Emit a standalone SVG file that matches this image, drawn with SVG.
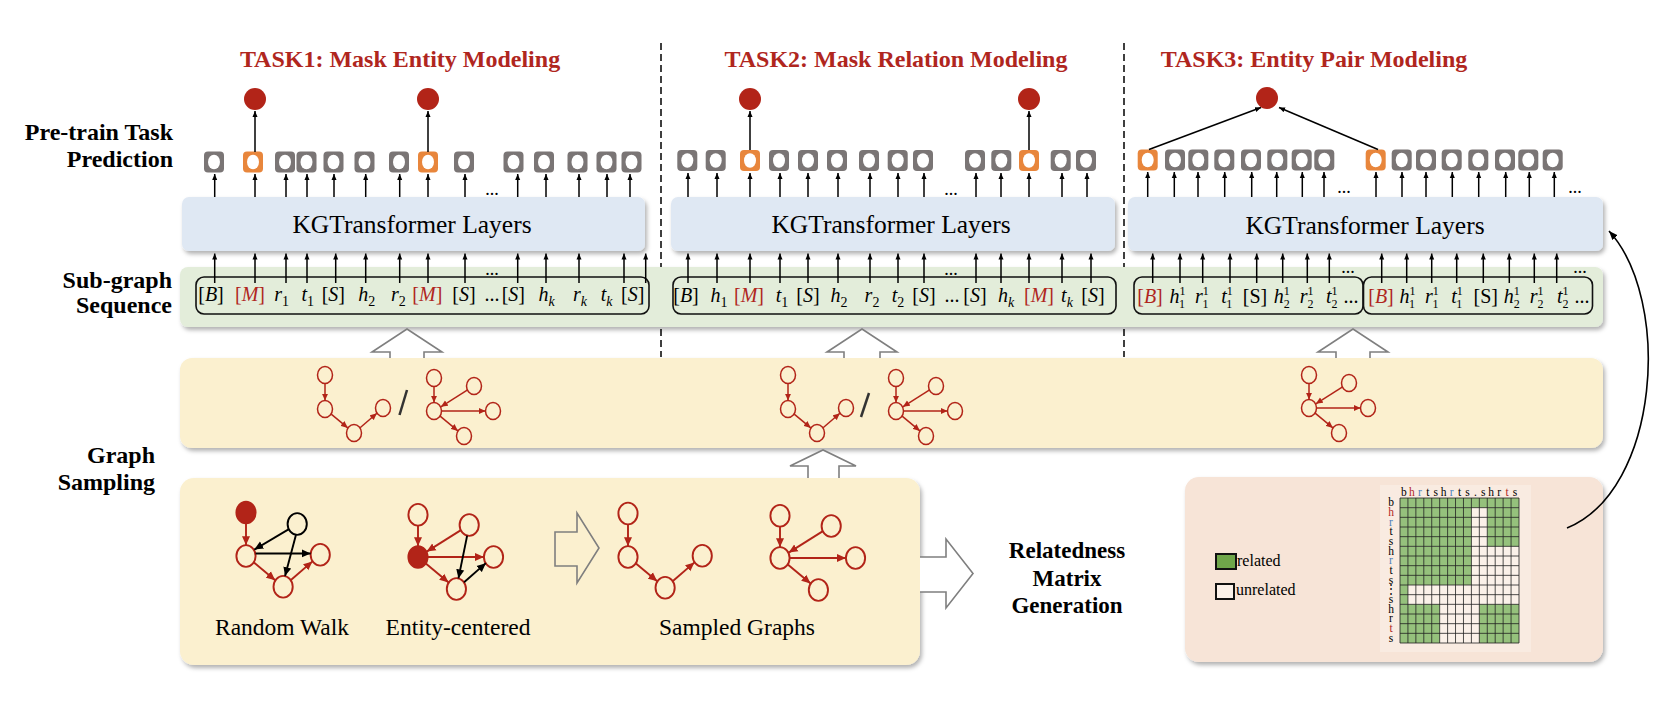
<svg xmlns="http://www.w3.org/2000/svg" xmlns:xlink="http://www.w3.org/1999/xlink" width="1676" height="710" viewBox="0 0 1676 710">
<style>
.ti{font:bold 24px "Liberation Serif",serif;fill:#B0261E;text-anchor:middle}
.lb{font:bold 24px "Liberation Serif",serif;text-anchor:end;fill:#000}
.kg{font:25.5px "Liberation Serif",serif;text-anchor:middle;fill:#000}
.sq{font:20px "Liberation Serif",serif;text-anchor:middle;fill:#000}
.i{font-style:italic}
.sb{font-size:14px}
.sp{font-size:12px}
.rd{fill:#B0261E}
.dt{font:18px "Liberation Serif",serif;text-anchor:middle}
.bl{font:23.5px "Liberation Serif",serif;text-anchor:middle}
.rm{font:bold 23px "Liberation Serif",serif;text-anchor:middle}
.lg{font:16px "Liberation Serif",serif}
.ml{font:11.5px "Liberation Serif","DejaVu Serif",serif;text-anchor:middle}
.bl2{fill:#4A7EBB}
.ar line{stroke:#000;stroke-width:1.5;marker-end:url(#ah)}
.gn{fill:none;stroke:#B22418;stroke-width:1.5}
.ge{stroke:#B22418;stroke-width:1.5;marker-end:url(#ar)}
.gk{stroke:#000;stroke-width:1.5;marker-end:url(#ak)}
.ha{stroke:#7F7F7F;stroke-width:1.6;fill:#fff}
.sqb{fill:none;stroke:#111;stroke-width:1.6}
</style>
<defs>
<filter id="sh" x="-5%" y="-20%" width="110%" height="150%"><feDropShadow dx="2" dy="3" stdDeviation="2" flood-color="#000" flood-opacity="0.3"/></filter>
<marker id="ah" viewBox="0 0 10 10" refX="10" refY="5" markerWidth="6" markerHeight="6" markerUnits="userSpaceOnUse" orient="auto"><path d="M0,0.8 L10,5 L0,9.2 z" fill="#000"/></marker>
<marker id="ac" viewBox="0 0 10 10" refX="10" refY="5" markerWidth="9" markerHeight="9" markerUnits="userSpaceOnUse" orient="auto"><path d="M0,1 L10,5 L0,9 z" fill="#000"/></marker>
<marker id="ar" viewBox="0 0 10 10" refX="10" refY="5" markerWidth="7" markerHeight="7" markerUnits="userSpaceOnUse" orient="auto"><path d="M0,0.5 L10,5 L0,9.5 z" fill="#B22418"/></marker>
<marker id="ak" viewBox="0 0 10 10" refX="10" refY="5" markerWidth="7" markerHeight="7" markerUnits="userSpaceOnUse" orient="auto"><path d="M0,0.5 L10,5 L0,9.5 z" fill="#000"/></marker>
<g id="tg"><rect x="-10" y="-10.5" width="20" height="21" rx="4" fill="#7A7575"/><ellipse rx="6" ry="7.3" fill="#fff"/></g>
<g id="to"><rect x="-10" y="-10.5" width="20" height="21" rx="4" fill="#E8863C"/><ellipse rx="6" ry="7.3" fill="#fff"/></g>
<g id="gpath">
<ellipse class="gn" cx="0" cy="-34" rx="7.5" ry="8.5"/><ellipse class="gn" cx="0" cy="0" rx="7.5" ry="8.5"/><ellipse class="gn" cx="29" cy="24" rx="7.5" ry="8.5"/><ellipse class="gn" cx="58" cy="-1" rx="7.5" ry="8.5"/>
<line class="ge" x1="0" y1="-25.5" x2="0" y2="-8.5"/><line class="ge" x1="6.2" y1="5.1" x2="22.8" y2="18.9"/><line class="ge" x1="35.1" y1="18.8" x2="51.9" y2="4.2"/>
</g>
<g id="gstar">
<ellipse class="gn" cx="0" cy="0" rx="7.5" ry="8.5"/><ellipse class="gn" cx="0" cy="-33" rx="7.5" ry="8.5"/><ellipse class="gn" cx="40" cy="-25" rx="7.5" ry="8.5"/><ellipse class="gn" cx="59" cy="0" rx="7.5" ry="8.5"/><ellipse class="gn" cx="30" cy="25" rx="7.5" ry="8.5"/>
<line class="ge" x1="0" y1="-24.5" x2="0" y2="-8.5"/><line class="ge" x1="33.2" y1="-20.8" x2="6.8" y2="-4.2"/><line class="ge" x1="7.5" y1="0" x2="51.5" y2="0"/><line class="ge" x1="6.1" y1="5.1" x2="23.9" y2="19.9"/>
</g>
</defs>
<rect width="1676" height="710" fill="#fff"/>

<!-- section dividers -->
<g id="dividers" stroke="#000" stroke-width="1.5" stroke-dasharray="7,4">
<line x1="661" y1="43" x2="661" y2="357"/>
<line x1="1124" y1="43" x2="1124" y2="357"/>
</g>

<!-- left labels -->
<g id="labels">
<text class="lb" x="173" y="140">Pre-train Task</text>
<text class="lb" x="173" y="167">Prediction</text>
<text class="lb" x="172" y="288">Sub-graph</text>
<text class="lb" x="172" y="313">Sequence</text>
<text class="lb" x="155" y="463">Graph</text>
<text class="lb" x="155" y="490">Sampling</text>
</g>

<!-- titles -->
<g id="titles">
<text class="ti" x="400" y="67">TASK1: Mask Entity Modeling</text>
<text class="ti" x="896" y="67">TASK2: Mask Relation Modeling</text>
<text class="ti" x="1314" y="67">TASK3: Entity Pair Modeling</text>
</g>

<!-- background bands -->
<g id="seq-band"><rect x="180" y="267" width="1423" height="60" rx="8" fill="#E3EDDA" filter="url(#sh)"/></g>
<g id="sample-band"><rect x="180" y="358" width="1423" height="90" rx="12" fill="#FBF0CF" filter="url(#sh)"/></g>
<g id="sampling-box"><rect x="180" y="478" width="740" height="187" rx="14" fill="#FBF0CF" filter="url(#sh)"/></g>
<g id="matrix-box"><rect x="1185" y="477" width="418" height="185" rx="14" fill="#F7E4D7" filter="url(#sh)"/></g>

<!-- KGTransformer layers -->
<g id="kg1"><rect x="182" y="197" width="463" height="54" rx="7" fill="#DFE8F3" filter="url(#sh)"/><text class="kg" x="412" y="233">KGTransformer Layers</text></g>
<g id="kg2"><rect x="671" y="197" width="444" height="54" rx="7" fill="#DFE8F3" filter="url(#sh)"/><text class="kg" x="891" y="233">KGTransformer Layers</text></g>
<g id="kg3"><rect x="1128" y="197" width="475" height="54" rx="7" fill="#DFE8F3" filter="url(#sh)"/><text class="kg" x="1365" y="234">KGTransformer Layers</text></g>

<!-- sequence boxes -->
<g id="seq1">
<rect class="sqb" x="196" y="277" width="453" height="37" rx="8"/>
<text class="sq" x="211" y="301">[<tspan class="i">B</tspan>]</text>
<text class="sq rd" x="250" y="301">[<tspan class="i">M</tspan>]</text>
<text class="sq" x="281.7" y="301"><tspan class="i">r</tspan><tspan class="sb" dy="5">1</tspan></text>
<text class="sq" x="307.7" y="301"><tspan class="i">t</tspan><tspan class="sb" dy="5">1</tspan></text>
<text class="sq" x="333.3" y="301">[<tspan class="i">S</tspan>]</text>
<text class="sq" x="366.7" y="301"><tspan class="i">h</tspan><tspan class="sb" dy="5">2</tspan></text>
<text class="sq" x="398.3" y="301"><tspan class="i">r</tspan><tspan class="sb" dy="5">2</tspan></text>
<text class="sq rd" x="427.3" y="301">[<tspan class="i">M</tspan>]</text>
<text class="sq" x="464" y="301">[<tspan class="i">S</tspan>]</text>
<text class="sq" x="492" y="301">...</text>
<text class="sq" x="513.3" y="301">[<tspan class="i">S</tspan>]</text>
<text class="sq" x="546.7" y="301"><tspan class="i">h</tspan><tspan class="sb i" dy="5">k</tspan></text>
<text class="sq" x="580" y="301"><tspan class="i">r</tspan><tspan class="sb i" dy="5">k</tspan></text>
<text class="sq" x="606.7" y="301"><tspan class="i">t</tspan><tspan class="sb i" dy="5">k</tspan></text>
<text class="sq" x="632.7" y="301">[<tspan class="i">S</tspan>]</text>
</g>
<g id="seq2">
<rect class="sqb" x="673" y="277" width="443" height="37" rx="8"/>
<text class="sq" x="686" y="302">[<tspan class="i">B</tspan>]</text>
<text class="sq" x="719" y="302"><tspan class="i">h</tspan><tspan class="sb" dy="5">1</tspan></text>
<text class="sq rd" x="749" y="302">[<tspan class="i">M</tspan>]</text>
<text class="sq" x="782" y="302"><tspan class="i">t</tspan><tspan class="sb" dy="5">1</tspan></text>
<text class="sq" x="808" y="302">[<tspan class="i">S</tspan>]</text>
<text class="sq" x="839" y="302"><tspan class="i">h</tspan><tspan class="sb" dy="5">2</tspan></text>
<text class="sq" x="872" y="302"><tspan class="i">r</tspan><tspan class="sb" dy="5">2</tspan></text>
<text class="sq" x="898" y="302"><tspan class="i">t</tspan><tspan class="sb" dy="5">2</tspan></text>
<text class="sq" x="924" y="302">[<tspan class="i">S</tspan>]</text>
<text class="sq" x="952" y="302">...</text>
<text class="sq" x="975" y="302">[<tspan class="i">S</tspan>]</text>
<text class="sq" x="1006" y="302"><tspan class="i">h</tspan><tspan class="sb i" dy="5">k</tspan></text>
<text class="sq rd" x="1039" y="302">[<tspan class="i">M</tspan>]</text>
<text class="sq" x="1067" y="302"><tspan class="i">t</tspan><tspan class="sb i" dy="5">k</tspan></text>
<text class="sq" x="1093" y="302">[<tspan class="i">S</tspan>]</text>
</g>
<g id="seq3">
<rect class="sqb" x="1134" y="277" width="229" height="37" rx="8"/>
<rect class="sqb" x="1363.5" y="277" width="229" height="37" rx="8"/>
<text class="sq rd" x="1150" y="303">[<tspan class="i">B</tspan>]</text>
<text class="sq" x="1177.3" y="303"><tspan class="i">h</tspan><tspan class="sp" dy="-8">1</tspan><tspan class="sp" dx="-6" dy="13">1</tspan></text>
<text class="sq" x="1201.7" y="303"><tspan class="i">r</tspan><tspan class="sp" dy="-8">1</tspan><tspan class="sp" dx="-6" dy="13">1</tspan></text>
<text class="sq" x="1226.7" y="303"><tspan class="i">t</tspan><tspan class="sp" dy="-8">1</tspan><tspan class="sp" dx="-6" dy="13">1</tspan></text>
<text class="sq" x="1255" y="303">[S]</text>
<text class="sq" x="1281.7" y="303"><tspan class="i">h</tspan><tspan class="sp" dy="-8">1</tspan><tspan class="sp" dx="-6" dy="13">2</tspan></text>
<text class="sq" x="1306.7" y="303"><tspan class="i">r</tspan><tspan class="sp" dy="-8">1</tspan><tspan class="sp" dx="-6" dy="13">2</tspan></text>
<text class="sq" x="1331.7" y="303"><tspan class="i">t</tspan><tspan class="sp" dy="-8">1</tspan><tspan class="sp" dx="-6" dy="13">2</tspan></text>
<text class="sq" x="1351" y="303">...</text>
<text class="sq rd" x="1381" y="303">[<tspan class="i">B</tspan>]</text>
<text class="sq" x="1407.3" y="303"><tspan class="i">h</tspan><tspan class="sp" dy="-8">1</tspan><tspan class="sp" dx="-6" dy="13">1</tspan></text>
<text class="sq" x="1431.7" y="303"><tspan class="i">r</tspan><tspan class="sp" dy="-8">1</tspan><tspan class="sp" dx="-6" dy="13">1</tspan></text>
<text class="sq" x="1456.7" y="303"><tspan class="i">t</tspan><tspan class="sp" dy="-8">1</tspan><tspan class="sp" dx="-6" dy="13">1</tspan></text>
<text class="sq" x="1485.7" y="303">[S]</text>
<text class="sq" x="1511.7" y="303"><tspan class="i">h</tspan><tspan class="sp" dy="-8">1</tspan><tspan class="sp" dx="-6" dy="13">2</tspan></text>
<text class="sq" x="1536.7" y="303"><tspan class="i">r</tspan><tspan class="sp" dy="-8">1</tspan><tspan class="sp" dx="-6" dy="13">2</tspan></text>
<text class="sq" x="1562.7" y="303"><tspan class="i">t</tspan><tspan class="sp" dy="-8">1</tspan><tspan class="sp" dx="-6" dy="13">2</tspan></text>
<text class="sq" x="1582" y="303">...</text>
</g>

<!-- output tokens -->
<g id="tokens1">
<use href="#tg" x="214" y="162"/><use href="#to" x="253" y="162"/><use href="#tg" x="285" y="162"/><use href="#tg" x="306.5" y="162"/><use href="#tg" x="333.5" y="162"/><use href="#tg" x="364.5" y="162"/><use href="#tg" x="399" y="162"/><use href="#to" x="428" y="162"/><use href="#tg" x="464" y="162"/><use href="#tg" x="513.5" y="162"/><use href="#tg" x="544" y="162"/><use href="#tg" x="577.5" y="162"/><use href="#tg" x="606.5" y="162"/><use href="#tg" x="631.5" y="162"/>
<circle cx="255" cy="99" r="11" fill="#B22418"/><circle cx="428" cy="99" r="11" fill="#B22418"/>
</g>
<g id="tokens2">
<use href="#tg" x="687.3" y="160.5"/><use href="#tg" x="715.7" y="160.5"/><use href="#to" x="750" y="160.5"/><use href="#tg" x="779" y="160.5"/><use href="#tg" x="808" y="160.5"/><use href="#tg" x="837" y="160.5"/><use href="#tg" x="869" y="160.5"/><use href="#tg" x="897.7" y="160.5"/><use href="#tg" x="923" y="160.5"/><use href="#tg" x="975" y="160.5"/><use href="#tg" x="1001.3" y="160.5"/><use href="#to" x="1029" y="160.5"/><use href="#tg" x="1060.7" y="160.5"/><use href="#tg" x="1086" y="160.5"/>
<circle cx="750" cy="99" r="11" fill="#B22418"/><circle cx="1029" cy="99" r="11" fill="#B22418"/>
</g>
<g id="tokens3">
<use href="#to" x="1147.7" y="160"/><use href="#tg" x="1175" y="160"/><use href="#tg" x="1198.3" y="160"/><use href="#tg" x="1224.3" y="160"/><use href="#tg" x="1251" y="160"/><use href="#tg" x="1277.3" y="160"/><use href="#tg" x="1301.7" y="160"/><use href="#tg" x="1324.3" y="160"/><use href="#to" x="1375.7" y="160"/><use href="#tg" x="1401.7" y="160"/><use href="#tg" x="1426" y="160"/><use href="#tg" x="1451.7" y="160"/><use href="#tg" x="1478.3" y="160"/><use href="#tg" x="1505" y="160"/><use href="#tg" x="1528.3" y="160"/><use href="#tg" x="1552.7" y="160"/>
<circle cx="1267" cy="98" r="11" fill="#B22418"/>
</g>

<!-- connectors -->
<g id="connectors" class="ar">
<!-- task1 up -->
<line x1="214.7" y1="197" x2="214.7" y2="174"/><line x1="255" y1="197" x2="255" y2="174"/><line x1="286" y1="197" x2="286" y2="174"/><line x1="307" y1="197" x2="307" y2="174"/><line x1="334" y1="197" x2="334" y2="174"/><line x1="365.7" y1="197" x2="365.7" y2="174"/><line x1="399.7" y1="197" x2="399.7" y2="174"/><line x1="428" y1="197" x2="428" y2="174"/><line x1="465" y1="197" x2="465" y2="174"/><line x1="517.7" y1="197" x2="517.7" y2="174"/><line x1="546" y1="197" x2="546" y2="174"/><line x1="579" y1="197" x2="579" y2="174"/><line x1="607" y1="197" x2="607" y2="174"/><line x1="630" y1="197" x2="630" y2="174"/>
<line x1="255" y1="152" x2="255" y2="111"/><line x1="428" y1="152" x2="428" y2="111"/>
<line x1="214.7" y1="283" x2="214.7" y2="253.5"/><line x1="255" y1="283" x2="255" y2="253.5"/><line x1="286" y1="283" x2="286" y2="253.5"/><line x1="307" y1="283" x2="307" y2="253.5"/><line x1="335.7" y1="283" x2="335.7" y2="253.5"/><line x1="365.7" y1="283" x2="365.7" y2="253.5"/><line x1="399.7" y1="283" x2="399.7" y2="253.5"/><line x1="428" y1="283" x2="428" y2="253.5"/><line x1="465" y1="283" x2="465" y2="253.5"/><line x1="517.7" y1="283" x2="517.7" y2="253.5"/><line x1="546" y1="283" x2="546" y2="253.5"/><line x1="579" y1="283" x2="579" y2="253.5"/><line x1="624" y1="283" x2="624" y2="253.5"/><line x1="645.7" y1="283" x2="645.7" y2="253.5"/>
<!-- task2 -->
<line x1="688" y1="197" x2="688" y2="173"/><line x1="717" y1="197" x2="717" y2="173"/><line x1="750" y1="197" x2="750" y2="173"/><line x1="780" y1="197" x2="780" y2="173"/><line x1="808" y1="197" x2="808" y2="173"/><line x1="838" y1="197" x2="838" y2="173"/><line x1="870" y1="197" x2="870" y2="173"/><line x1="898" y1="197" x2="898" y2="173"/><line x1="924" y1="197" x2="924" y2="173"/><line x1="976" y1="197" x2="976" y2="173"/><line x1="1001" y1="197" x2="1001" y2="173"/><line x1="1029" y1="197" x2="1029" y2="173"/><line x1="1062" y1="197" x2="1062" y2="173"/><line x1="1087" y1="197" x2="1087" y2="173"/>
<line x1="750" y1="150" x2="750" y2="111"/><line x1="1029" y1="150" x2="1029" y2="111"/>
<line x1="688" y1="283" x2="688" y2="253.5"/><line x1="717" y1="283" x2="717" y2="253.5"/><line x1="750" y1="283" x2="750" y2="253.5"/><line x1="780" y1="283" x2="780" y2="253.5"/><line x1="808" y1="283" x2="808" y2="253.5"/><line x1="838" y1="283" x2="838" y2="253.5"/><line x1="870" y1="283" x2="870" y2="253.5"/><line x1="898" y1="283" x2="898" y2="253.5"/><line x1="924" y1="283" x2="924" y2="253.5"/><line x1="976" y1="283" x2="976" y2="253.5"/><line x1="1001" y1="283" x2="1001" y2="253.5"/><line x1="1029" y1="283" x2="1029" y2="253.5"/><line x1="1062" y1="283" x2="1062" y2="253.5"/><line x1="1091" y1="283" x2="1091" y2="253.5"/>
<!-- task3 -->
<line x1="1147.7" y1="197" x2="1147.7" y2="172"/><line x1="1174.3" y1="197" x2="1174.3" y2="172"/><line x1="1198" y1="197" x2="1198" y2="172"/><line x1="1224.7" y1="197" x2="1224.7" y2="172"/><line x1="1251.7" y1="197" x2="1251.7" y2="172"/><line x1="1276.7" y1="197" x2="1276.7" y2="172"/><line x1="1302.3" y1="197" x2="1302.3" y2="172"/><line x1="1324" y1="197" x2="1324" y2="172"/><line x1="1376" y1="197" x2="1376" y2="172"/><line x1="1402" y1="197" x2="1402" y2="172"/><line x1="1426" y1="197" x2="1426" y2="172"/><line x1="1452.3" y1="197" x2="1452.3" y2="172"/><line x1="1478.7" y1="197" x2="1478.7" y2="172"/><line x1="1505.7" y1="197" x2="1505.7" y2="172"/><line x1="1529.3" y1="197" x2="1529.3" y2="172"/><line x1="1554.3" y1="197" x2="1554.3" y2="172"/>
<line x1="1149" y1="149.5" x2="1261" y2="107.5"/><line x1="1378" y1="149.5" x2="1279" y2="107.5"/>
<line x1="1152.7" y1="283" x2="1152.7" y2="253.5"/><line x1="1180" y1="283" x2="1180" y2="253.5"/><line x1="1202.7" y1="283" x2="1202.7" y2="253.5"/><line x1="1230" y1="283" x2="1230" y2="253.5"/><line x1="1256.7" y1="283" x2="1256.7" y2="253.5"/><line x1="1282.7" y1="283" x2="1282.7" y2="253.5"/><line x1="1307.3" y1="283" x2="1307.3" y2="253.5"/><line x1="1329.3" y1="283" x2="1329.3" y2="253.5"/><line x1="1381.7" y1="283" x2="1381.7" y2="253.5"/><line x1="1406.7" y1="283" x2="1406.7" y2="253.5"/><line x1="1431.7" y1="283" x2="1431.7" y2="253.5"/><line x1="1456.7" y1="283" x2="1456.7" y2="253.5"/><line x1="1483.3" y1="283" x2="1483.3" y2="253.5"/><line x1="1509.3" y1="283" x2="1509.3" y2="253.5"/><line x1="1534.3" y1="283" x2="1534.3" y2="253.5"/><line x1="1556.7" y1="283" x2="1556.7" y2="253.5"/>
<!-- curved feedback -->
<path d="M1567,528 C1660,490 1672,300 1609,231" fill="none" stroke="#000" stroke-width="1.6" marker-end="url(#ac)"/>
<!-- hollow block arrows -->
<path class="ha" d="M390,358 L390,352 L372,352 L407,329 L442,352 L424,352 L424,358"/>
<path class="ha" d="M844,358 L844,352 L827,352 L862,329 L897,352 L880,352 L880,358"/>
<path class="ha" d="M1336,358 L1336,352 L1318,352 L1353,329 L1388,352 L1370,352 L1370,358"/>
<path class="ha" d="M808,478 L808,466 L790,466 L823,450 L856,466 L839,466 L839,478"/>
<path class="ha" d="M555,532 L577,532 L577,513 L599,548 L577,583 L577,566 L555,566 Z" style="fill:none"/>
<path class="ha" d="M920,557 L946,557 L946,539 L973,573.5 L946,608 L946,592 L920,592"/>
</g>

<!-- dots -->
<g id="dots">
<text class="dt" x="492" y="195">...</text><text class="dt" x="492" y="275">...</text>
<text class="dt" x="951" y="195">...</text><text class="dt" x="951" y="275">...</text>
<text class="dt" x="1344" y="193">...</text><text class="dt" x="1575" y="193">...</text>
<text class="dt" x="1348" y="273">...</text><text class="dt" x="1580" y="273">...</text>
</g>

<!-- sampled graphs in band -->
<g id="band-graphs">
<use href="#gpath" transform="translate(325,409)"/>
<line x1="399.5" y1="415" x2="407" y2="390" stroke="#333" stroke-width="2.5"/>
<use href="#gstar" transform="translate(434,411)"/>
<use href="#gpath" transform="translate(788,409)"/>
<line x1="861" y1="417" x2="869" y2="393" stroke="#333" stroke-width="2.5"/>
<use href="#gstar" transform="translate(896,411)"/>
<use href="#gstar" transform="translate(1309,408)"/>
</g>

<!-- sampling illustrations -->
<g id="random-walk" transform="translate(246,556) scale(1.28)">
<ellipse cx="0" cy="-34" rx="7.5" ry="8.5" fill="#B22418" stroke="#B22418" stroke-width="1.5"/>
<ellipse cx="40" cy="-25" rx="7.5" ry="8.5" fill="none" stroke="#000" stroke-width="1.5"/>
<ellipse class="gn" cx="0" cy="0" rx="7.5" ry="8.5"/><ellipse class="gn" cx="29" cy="24" rx="7.5" ry="8.5"/><ellipse class="gn" cx="58" cy="-1" rx="7.5" ry="8.5"/>
<line class="ge" x1="0" y1="-25.5" x2="0" y2="-8.5"/><line class="ge" x1="6.2" y1="5.1" x2="22.8" y2="18.9"/><line class="ge" x1="35.1" y1="18.8" x2="51.9" y2="4.2"/>
<line class="gk" x1="33.2" y1="-20.8" x2="6.5" y2="-5"/>
<line class="gk" x1="7.5" y1="-2" x2="50.5" y2="-2"/>
<line class="gk" x1="39" y1="-16.5" x2="30.5" y2="15.7"/>
</g>
<g id="entity-centered" transform="translate(418,557) scale(1.28)">
<ellipse cx="0" cy="0" rx="7.5" ry="8.5" fill="#B22418" stroke="#B22418" stroke-width="1.5"/>
<ellipse class="gn" cx="0" cy="-33" rx="7.5" ry="8.5"/><ellipse class="gn" cx="40" cy="-25" rx="7.5" ry="8.5"/><ellipse class="gn" cx="59" cy="0" rx="7.5" ry="8.5"/><ellipse class="gn" cx="30" cy="25" rx="7.5" ry="8.5"/>
<line class="ge" x1="0" y1="-24.5" x2="0" y2="-8.5"/><line class="ge" x1="33.2" y1="-20.8" x2="6.8" y2="-4.2"/><line class="ge" x1="7.5" y1="0" x2="51.5" y2="0"/><line class="ge" x1="6.1" y1="5.1" x2="23.9" y2="19.9"/>
<line class="gk" x1="38.4" y1="-16.7" x2="31.6" y2="16.7"/>
<line class="gk" x1="36" y1="19.8" x2="53" y2="4.8"/>
</g>
<g id="sampled-graphs">
<use href="#gpath" transform="translate(628,557) scale(1.28)"/>
<use href="#gstar" transform="translate(780,558) scale(1.28)"/>
</g>
<g id="sampling-labels">
<text class="bl" x="282" y="635">Random Walk</text>
<text class="bl" x="458" y="635">Entity-centered</text>
<text class="bl" x="737" y="635">Sampled Graphs</text>
</g>

<!-- relatedness label -->
<g id="relatedness-label">
<text class="rm" x="1067" y="558">Relatedness</text>
<text class="rm" x="1067" y="586">Matrix</text>
<text class="rm" x="1067" y="613">Generation</text>
</g>

<!-- matrix -->
<g id="matrix">
<rect x="1380" y="485" width="151" height="167" fill="#F9EBE1"/>
<rect x="1216" y="554" width="20" height="15" fill="#6FA64A" stroke="#111" stroke-width="2"/>
<text class="lg" x="1237" y="566">related</text>
<rect x="1216" y="584" width="18" height="15" fill="#FBF1E9" stroke="#111" stroke-width="2"/>
<text class="lg" x="1236" y="595">unrelated</text>
<rect x="1400" y="498" width="119" height="145" fill="#FBF1E9"/>
<g fill="#95C17C">
<rect x="1400" y="498" width="119" height="9.67"/>
<rect x="1400" y="507.67" width="71.4" height="38.67"/>
<rect x="1487.27" y="507.67" width="31.73" height="38.67"/>
<rect x="1400" y="546.33" width="71.4" height="38.67"/>
<rect x="1400" y="585" width="7.93" height="19.33"/>
<rect x="1400" y="604.33" width="39.67" height="38.67"/>
<rect x="1479.33" y="604.33" width="39.67" height="38.67"/>
</g>
<path fill="none" stroke="#222" stroke-width="0.8" d="M1400,498V643M1407.93,498V643M1415.87,498V643M1423.8,498V643M1431.73,498V643M1439.67,498V643M1447.6,498V643M1455.53,498V643M1463.47,498V643M1471.4,498V643M1479.33,498V643M1487.27,498V643M1495.2,498V643M1503.13,498V643M1511.07,498V643M1519,498V643M1400,498H1519M1400,507.67H1519M1400,517.33H1519M1400,527H1519M1400,536.67H1519M1400,546.33H1519M1400,556H1519M1400,565.67H1519M1400,575.33H1519M1400,585H1519M1400,594.67H1519M1400,604.33H1519M1400,614H1519M1400,623.67H1519M1400,633.33H1519M1400,643H1519"/>
<g class="ml">
<text x="1403.97" y="496">b</text><text x="1411.9" y="496" class="rd">h</text><text x="1419.83" y="496" class="bl2">r</text><text x="1427.77" y="496">t</text><text x="1435.7" y="496">s</text><text x="1443.63" y="496">h</text><text x="1451.57" y="496" class="bl2">r</text><text x="1459.5" y="496">t</text><text x="1467.43" y="496">s</text><text x="1475.37" y="496">.</text><text x="1483.3" y="496">s</text><text x="1491.23" y="496">h</text><text x="1499.17" y="496">r</text><text x="1507.1" y="496" class="rd">t</text><text x="1515.03" y="496">s</text>
<text x="1391" y="506.3">b</text><text x="1391" y="516" class="rd">h</text><text x="1391" y="525.7" class="bl2">r</text><text x="1391" y="535.3">t</text><text x="1391" y="545">s</text><text x="1391" y="554.7">h</text><text x="1391" y="564.3" class="bl2">r</text><text x="1391" y="574">t</text><text x="1391" y="583.7">s</text><text x="1391" y="593.3">⋮</text><text x="1391" y="603">s</text><text x="1391" y="612.7">h</text><text x="1391" y="622.3">r</text><text x="1391" y="632" class="rd">t</text><text x="1391" y="641.7">s</text>
</g>
</g>
</svg>
